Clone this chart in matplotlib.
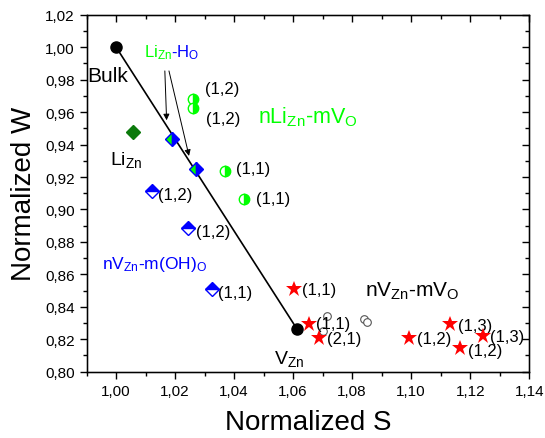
import numpy as np
import matplotlib
matplotlib.use("Agg")
import matplotlib.pyplot as plt
from matplotlib.ticker import MultipleLocator, FuncFormatter

plt.rcParams["font.family"] = ["Liberation Sans", "DejaVu Sans"]
plt.rcParams["mathtext.fontset"] = "custom"
plt.rcParams["mathtext.rm"] = "Liberation Sans"
plt.rcParams["mathtext.it"] = "Liberation Sans"

# ── data ─────────────────────────────────────────────────────────────
ref_s = [1.000, 1.0612]          # Bulk, V_Zn
ref_w = [1.000, 0.8266]

lizn_s = [1.0056]
lizn_w = [0.9478]

lih_s = [1.019, 1.0269]          # Li_Zn-H_O
lih_w = [0.9437, 0.9252]

oh_s = [1.0121, 1.0245, 1.0325]  # nV_Zn-m(OH)_O
oh_w = [0.9114, 0.8883, 0.8507]
oh_lab = ["(1,2)", "(1,2)", "(1,1)"]

nli_s = [1.026, 1.026, 1.0368, 1.0432]   # nLi_Zn-mV_O
nli_w = [0.9684, 0.9628, 0.9237, 0.9062]
nli_lab = ["(1,2)", "(1,2)", "(1,1)", "(1,1)"]

vv_s = [1.0602, 1.0654, 1.0688, 1.0993, 1.1133, 1.1167, 1.1244]  # nV_Zn-mV_O
vv_w = [0.8511, 0.8297, 0.8206, 0.8210, 0.8297, 0.8144, 0.8223]
vv_lab = ["(1,1)", "(1,1)", "(2,1)", "(1,2)", "(1,3)", "(1,2)", "(1,3)"]

open_s = [1.0716, 1.0701, 1.0839, 1.0850]
open_w = [0.8342, 0.8249, 0.8326, 0.8309]

GREEN = "#00ff00"
DKGREEN = "#0b7a0b"
BLUE = "#0000ff"
RED = "#ff0000"

fig = plt.figure(figsize=(5.45, 4.39), dpi=100)
ax = fig.add_axes([0.159, 0.151, 0.812, 0.813])

# Bulk -> V_Zn line
ax.plot(ref_s, ref_w, "-", color="black", lw=1.2, zorder=2)
ax.plot(ref_s, ref_w, "o", color="black", ms=8, zorder=4)

ax.plot(lizn_s, lizn_w, "D", color=DKGREEN, ms=7, zorder=4)

ax.plot(lih_s, lih_w, "D", ls="none", ms=7.5, fillstyle="left",
        markerfacecolor=GREEN, markerfacecoloralt=BLUE, markeredgecolor=BLUE,
        markeredgewidth=1, zorder=5)

ax.plot(oh_s, oh_w, "D", ls="none", ms=7.5, fillstyle="top",
        markerfacecolor=BLUE, markerfacecoloralt="white", markeredgecolor=BLUE,
        markeredgewidth=1, zorder=4)

ax.plot(nli_s, nli_w, "o", ls="none", ms=7.5, fillstyle="right",
        markerfacecolor=GREEN, markerfacecoloralt="white", markeredgecolor=GREEN,
        markeredgewidth=1, zorder=4)

ax.plot(open_s, open_w, "o", ls="none", ms=5.5, markerfacecolor="white",
        markeredgecolor="#555555", markeredgewidth=0.8, zorder=3)

ax.plot(vv_s, vv_w, "*", ls="none", ms=12, color=RED, markeredgewidth=0, zorder=5)

# ── point labels ───────────────────────────────────────────────────
fs = 12
oh_off = [(0.0021, -0.0047), (0.0024, -0.0047), (0.0020, -0.0045)]
for s, w, t, (dx, dy) in zip(oh_s, oh_w, oh_lab, oh_off):
    ax.text(s + dx, w + dy, t, fontsize=fs, color="black")

nli_pos = [(1.0300, 0.9721), (1.0305, 0.9536), (1.0407, 0.9223), (1.0473, 0.9042)]
for (x, y), t in zip(nli_pos, nli_lab):
    ax.text(x, y, t, fontsize=fs, color="black")

vv_pos = [(1.0631, 0.8476), (1.0679, 0.8270), (1.0713, 0.8178), (1.1020, 0.8178),
          (1.1160, 0.8260), (1.1193, 0.8105), (1.1267, 0.8188)]
for (x, y), t in zip(vv_pos, vv_lab):
    ax.text(x, y, t, fontsize=fs, color="black")

ax.text(0.9903, 0.9791, "Bulk", fontsize=15, color="black")
ax.text(0.9978, 0.9278, r"Li$_{\mathrm{Zn}}$", fontsize=14, color="black")
ax.text(1.0535, 0.8054, r"V$_{\mathrm{Zn}}$", fontsize=14, color="black")
ax.text(1.0096, 0.9947, r"Li$_{\mathrm{Zn}}$", fontsize=12, color=GREEN)
ax.text(1.0186, 0.9947, r"-H$_{\mathrm{O}}$", fontsize=12, color=BLUE)
ax.text(1.0480, 0.9536, r"nLi$_{\mathrm{Zn}}$-mV$_{\mathrm{O}}$", fontsize=15.5, color=GREEN)
ax.text(0.9953, 0.8641, r"nV$_{\mathrm{Zn}}$-m(OH)$_{\mathrm{O}}$", fontsize=12.5, color=BLUE)
ax.text(1.0843, 0.8466, r"nV$_{\mathrm{Zn}}$-mV$_{\mathrm{O}}$", fontsize=15, color="black")

# arrows from the Li_Zn-H_O label
arrows = [((1.0165, 0.9854), (1.0171, 0.9550)),
          ((1.0179, 0.9854), (1.0247, 0.9330))]
for start, end in arrows:
    ax.annotate("", xy=end, xytext=start,
                arrowprops=dict(arrowstyle="-|>", color="black", lw=0.7,
                                mutation_scale=9, shrinkA=0, shrinkB=0))

# ── axes ────────────────────────────────────────────────────────────
ax.set_xlim(0.99, 1.14)
ax.set_ylim(0.80, 1.02)
comma = FuncFormatter(lambda v, p: f"{v:.2f}".replace(".", ","))
ax.xaxis.set_major_locator(MultipleLocator(0.02))
ax.xaxis.set_minor_locator(MultipleLocator(0.01))
ax.yaxis.set_major_locator(MultipleLocator(0.02))
ax.yaxis.set_minor_locator(MultipleLocator(0.01))
ax.xaxis.set_major_formatter(comma)
ax.yaxis.set_major_formatter(comma)
ax.tick_params(which="major", direction="out", length=5, width=1, labelsize=11)
ax.tick_params(which="minor", direction="out", length=3, width=1)
for sp in ax.spines.values():
    sp.set_linewidth(1)

ax.set_xlabel("Normalized S", fontsize=20, labelpad=8)
ax.set_ylabel("Normalized W", fontsize=20, labelpad=6)

# mirror ticks, pointing inward, on top and right
axt = ax.twiny()
axt.set_xlim(ax.get_xlim())
axt.xaxis.set_major_locator(MultipleLocator(0.02))
axt.xaxis.set_minor_locator(MultipleLocator(0.01))
axt.tick_params(which="major", direction="in", length=5, width=1, labeltop=False)
axt.tick_params(which="minor", direction="in", length=3, width=1)
axr = ax.twinx()
axr.set_ylim(ax.get_ylim())
axr.yaxis.set_major_locator(MultipleLocator(0.02))
axr.yaxis.set_minor_locator(MultipleLocator(0.01))
axr.tick_params(which="major", direction="in", length=5, width=1, labelright=False)
axr.tick_params(which="minor", direction="in", length=3, width=1)

fig.savefig("out.png", dpi=100)
